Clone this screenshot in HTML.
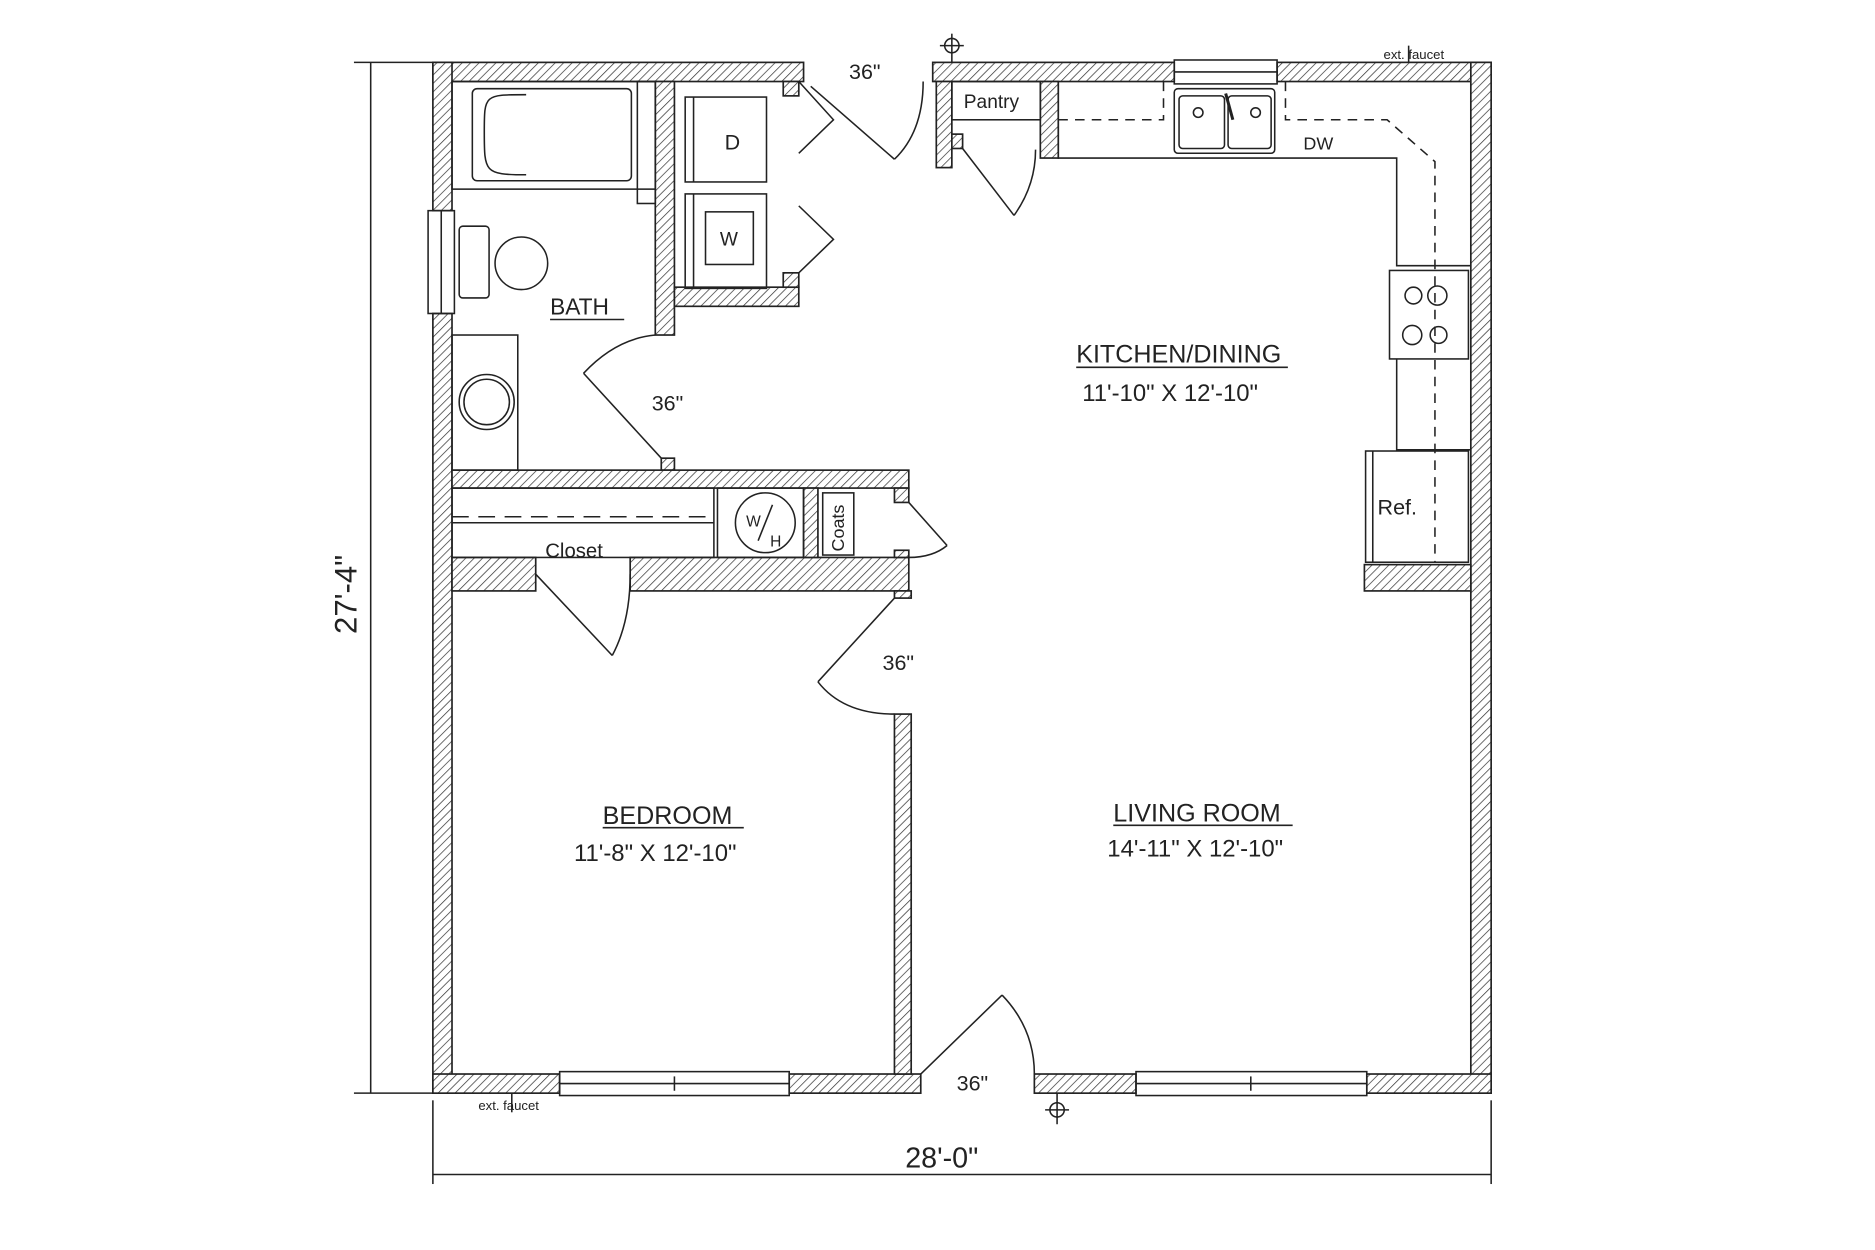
<!DOCTYPE html>
<html><head><meta charset="utf-8"><style>
html,body{margin:0;padding:0;background:#fff;}
svg{display:block;}
text{font-family:"Liberation Sans",sans-serif;fill:#222;}
</style></head><body>
<svg width="1875" height="1250" viewBox="0 0 1568 1045" xmlns="http://www.w3.org/2000/svg">
<defs>
<pattern id="h" width="5" height="5" patternUnits="userSpaceOnUse" patternTransform="rotate(45)">
<rect width="5" height="5" fill="#fff"/><line x1="0" y1="0" x2="0" y2="5" stroke="#333" stroke-width="1.2"/>
</pattern>
</defs>
<g stroke="#222" stroke-width="1.4" fill="url(#h)">
<rect x="362" y="52" width="310" height="16"/>
<rect x="780" y="52" width="202" height="16"/>
<rect x="1068" y="52" width="179" height="16"/>
<rect x="362" y="52" width="16" height="124"/>
<rect x="362" y="262" width="16" height="652"/>
<rect x="1230" y="52" width="17" height="862"/>
<rect x="362" y="898" width="106" height="16"/>
<rect x="660" y="898" width="110" height="16"/>
<rect x="865" y="898" width="85" height="16"/>
<rect x="1143" y="898" width="104" height="16"/>
<rect x="548" y="68" width="16" height="212"/>
<rect x="564" y="240" width="104" height="16"/>
<rect x="655" y="68" width="13" height="12"/>
<rect x="655" y="228" width="13" height="12"/>
<rect x="553" y="383" width="11" height="10"/>
<rect x="378" y="393" width="382" height="15"/>
<rect x="378" y="466" width="70" height="28"/>
<rect x="527" y="466" width="233" height="28"/>
<rect x="672" y="408" width="12" height="58"/>
<rect x="748" y="408" width="12" height="12"/>
<rect x="748" y="460" width="12" height="6"/>
<rect x="748" y="494" width="14" height="6"/>
<rect x="748" y="597" width="14" height="301"/>
<rect x="783" y="68" width="13" height="72"/>
<rect x="870" y="68" width="15" height="64"/>
<rect x="796" y="112" width="9" height="12"/>
<rect x="1141" y="472" width="89" height="22"/>
</g>
<g stroke="#222" stroke-width="1.3" fill="none">
<rect x="358" y="176" width="22" height="86"/><line x1="369" y1="176" x2="369" y2="262"/>
<rect x="982" y="50" width="86" height="20"/><line x1="982" y1="60" x2="1068" y2="60"/>
<rect x="468" y="896" width="192" height="20"/><line x1="468" y1="906" x2="660" y2="906"/><line x1="564" y1="900" x2="564" y2="912"/>
<rect x="950" y="896" width="193" height="20"/><line x1="950" y1="906" x2="1143" y2="906"/><line x1="1046" y1="900" x2="1046" y2="912"/>
<rect x="378" y="68" width="170" height="90"/>
<rect x="395" y="74" width="133" height="77" rx="4"/>
<path d="M440 79 C405 79 405 79 405 110 C405 144 405 146 440 146"/>
<rect x="533" y="68" width="15" height="102"/>
<rect x="384" y="189" width="25" height="60" rx="3"/>
<circle cx="436" cy="220" r="22"/>
<rect x="378" y="280" width="55" height="113"/>
<circle cx="407" cy="336" r="23"/><circle cx="407" cy="336" r="19"/>
<rect x="573" y="81" width="68" height="71"/><line x1="580" y1="81" x2="580" y2="152"/>
<rect x="573" y="162" width="68" height="79"/><line x1="580" y1="162" x2="580" y2="241"/>
<rect x="590" y="177" width="40" height="44"/>
<path d="M668 68 L697 100 L668 128"/><path d="M668 228 L697 200 L668 172"/>
<line x1="678" y1="72" x2="748" y2="133"/>
<path d="M748 133 Q772 110 772 68"/>
<line x1="553" y1="383" x2="488" y2="312"/>
<path d="M488 312 Q515 283 548 280"/>
<rect x="796" y="68" width="74" height="32"/>
<line x1="805" y1="124" x2="848" y2="180"/><path d="M848 180 Q866 155 866 125"/>
<path d="M885 68 L885 132 L1168 132 L1168 222 L1230 222"/>
<path d="M1168 300 L1168 376 L1230 376"/>
<rect x="1162" y="226" width="66" height="74"/>
<circle cx="1182" cy="247" r="7"/><circle cx="1202" cy="247" r="8"/>
<circle cx="1181" cy="280" r="8"/><circle cx="1203" cy="280" r="7"/>
<rect x="1142" y="377" width="86" height="93"/><line x1="1148" y1="377" x2="1148" y2="470"/>
<g stroke-dasharray="8 6"><path d="M885 100 L973 100 L973 68"/><path d="M1075 68 L1075 100 L1160 100 L1200 135 L1200 470"/></g>
<rect x="982" y="74" width="84" height="54" rx="3"/>
<rect x="986" y="80" width="38" height="44" rx="3"/><rect x="1027" y="80" width="36" height="44" rx="3"/>
<circle cx="1002" cy="94" r="4"/><circle cx="1050" cy="94" r="4"/>
<line x1="1025" y1="78" x2="1031" y2="100" stroke-width="2.5"/>
<rect x="378" y="408" width="219" height="58"/>
<line x1="378" y1="432" x2="597" y2="432" stroke-dasharray="14 8"/>
<line x1="378" y1="437" x2="597" y2="437"/>
<rect x="600" y="408" width="72" height="58"/>
<circle cx="640" cy="437" r="25"/><line x1="634" y1="452" x2="646" y2="422"/>
<rect x="688" y="412" width="26" height="52"/>
<line x1="760" y1="420" x2="792" y2="456"/><path d="M792 456 Q780 466 760 466"/>
<line x1="448" y1="480" x2="512" y2="548"/><path d="M512 548 Q527 520 527 480"/>
<line x1="748" y1="500" x2="684" y2="570"/><path d="M684 570 Q705 597 748 597"/>
<line x1="770" y1="898" x2="838" y2="832"/><path d="M838 832 Q865 860 865 898"/>
<line x1="310" y1="52" x2="310" y2="914"/><line x1="296" y1="52" x2="362" y2="52"/><line x1="296" y1="914" x2="362" y2="914"/>
<line x1="362" y1="982" x2="1247" y2="982"/><line x1="362" y1="920" x2="362" y2="990"/><line x1="1247" y1="920" x2="1247" y2="990"/>
<circle cx="796" cy="38" r="6"/><line x1="796" y1="28" x2="796" y2="52"/><line x1="786" y1="38" x2="806" y2="38"/>
<circle cx="884" cy="928" r="6"/><line x1="884" y1="914" x2="884" y2="940"/><line x1="874" y1="928" x2="894" y2="928"/>
<line x1="1178" y1="38" x2="1178" y2="52"/><line x1="428" y1="914" x2="428" y2="930"/>
<line x1="460" y1="267" x2="522" y2="267"/><line x1="504" y1="692" x2="622" y2="692"/><line x1="931" y1="690" x2="1081" y2="690"/><line x1="900" y1="307" x2="1077" y2="307"/>
</g>
<text x="710" y="66" font-size="18">36"</text>
<text x="545" y="343" font-size="18">36"</text>
<text x="738" y="560" font-size="18">36"</text>
<text x="800" y="912" font-size="18">36"</text>
<text x="806" y="90" font-size="16">Pantry</text>
<text x="606" y="125" font-size="18">D</text>
<text x="602" y="205" font-size="16">W</text>
<text x="460" y="263" font-size="19">BATH</text>
<text x="1090" y="125" font-size="15">DW</text>
<text x="1152" y="430" font-size="18">Ref.</text>
<text x="456" y="466" font-size="17">Closet</text>
<text x="624" y="440" font-size="13">W</text><text x="644" y="457" font-size="13">H</text>
<text transform="translate(706,461) rotate(-90)" font-size="15">Coats</text>
<text x="900" y="303" font-size="21">KITCHEN/DINING</text>
<text x="905" y="335" font-size="20">11'-10" X 12'-10"</text>
<text x="504" y="689" font-size="21">BEDROOM</text>
<text x="480" y="720" font-size="20">11'-8" X 12'-10"</text>
<text x="931" y="687" font-size="21">LIVING ROOM</text>
<text x="926" y="716" font-size="20">14'-11" X 12'-10"</text>
<text x="757" y="976" font-size="24">28'-0"</text>
<text transform="translate(298,530) rotate(-90)" font-size="26">27'-4"</text>
<text x="1157" y="49" font-size="11">ext. faucet</text>
<text x="400" y="928" font-size="11">ext. faucet</text>
</svg>
</body></html>
